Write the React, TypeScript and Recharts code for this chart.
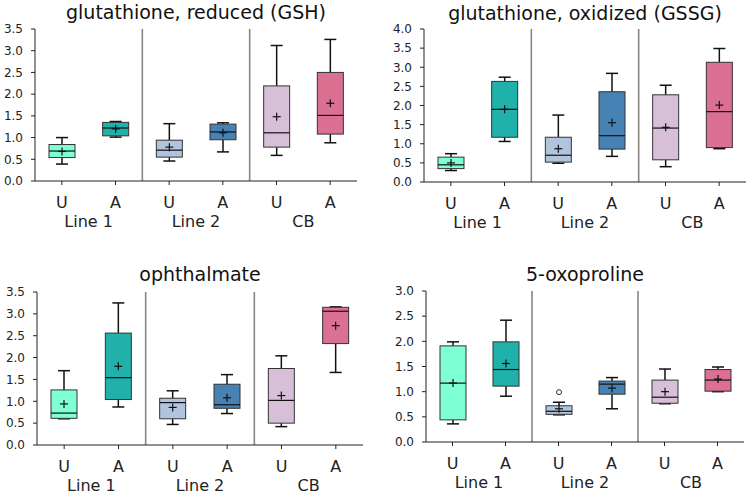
import React from 'react';
import { ComposedChart, Bar, XAxis, YAxis, ReferenceLine } from 'recharts';

const ids = ['L1U', 'L1A', 'L2U', 'L2A', 'CBU', 'CBA'];
const conditions = ['U', 'A', 'U', 'A', 'U', 'A'];
const groups = ['Line 1', 'Line 1', 'Line 2', 'Line 2', 'CB', 'CB'];
const boxColors = ['#7fffd4', '#20b2aa', '#b0c4de', '#4682b4', '#d8bfd8', '#db7093'];

// glutathione, reduced (GSH)
const gshLow = [0.39, 1.01, 0.46, 0.67, 0.59, 0.88];
const gshQ1 = [0.54, 1.04, 0.55, 0.95, 0.78, 1.08];
const gshMedian = [0.69, 1.22, 0.71, 1.13, 1.11, 1.51];
const gshQ3 = [0.84, 1.35, 0.94, 1.31, 2.19, 2.5];
const gshHigh = [1.0, 1.37, 1.32, 1.34, 3.12, 3.26];
const gshMean = [0.68, 1.2, 0.78, 1.11, 1.48, 1.79];
const gshTicks = [0, 0.5, 1, 1.5, 2, 2.5, 3, 3.5];

// glutathione, oxidized (GSSG)
const gssgLow = [0.3, 1.06, 0.49, 0.67, 0.4, 0.87];
const gssgQ1 = [0.35, 1.17, 0.52, 0.86, 0.58, 0.9];
const gssgMedian = [0.45, 1.9, 0.7, 1.21, 1.41, 1.84];
const gssgQ3 = [0.65, 2.63, 1.17, 2.36, 2.28, 3.13];
const gssgHigh = [0.74, 2.74, 1.75, 2.84, 2.53, 3.49];
const gssgMean = [0.5, 1.9, 0.87, 1.55, 1.43, 2.01];
const gssgTicks = [0, 0.5, 1, 1.5, 2, 2.5, 3, 3.5, 4];

// ophthalmate
const ophLow = [0.6, 0.87, 0.47, 0.72, 0.42, 1.66];
const ophQ1 = [0.61, 1.04, 0.6, 0.84, 0.5, 2.32];
const ophMedian = [0.73, 1.54, 0.97, 0.92, 1.02, 3.06];
const ophQ3 = [1.26, 2.56, 1.07, 1.39, 1.75, 3.15];
const ophHigh = [1.7, 3.25, 1.24, 1.61, 2.04, 3.16];
const ophMean = [0.94, 1.8, 0.86, 1.08, 1.13, 2.73];
const ophTicks = [0, 0.5, 1, 1.5, 2, 2.5, 3, 3.5];

// 5-oxoproline
const oxoLow = [0.36, 0.91, 0.54, 0.66, 0.76, 1.0];
const oxoQ1 = [0.44, 1.11, 0.55, 0.95, 0.77, 1.01];
const oxoMedian = [1.17, 1.44, 0.61, 1.15, 0.89, 1.23];
const oxoQ3 = [1.91, 1.99, 0.72, 1.21, 1.23, 1.44];
const oxoHigh = [1.99, 2.42, 0.79, 1.28, 1.45, 1.49];
const oxoMean = [1.17, 1.56, 0.66, 1.07, 1.0, 1.25];
const oxoOutliers = [[], [], [0.99], [], [], []];
const oxoTicks = [0, 0.5, 1, 1.5, 2, 2.5, 3];

const FONT = '"DejaVu Sans", Verdana, sans-serif';

function buildRows(
  low: number[], q1: number[], med: number[], q3: number[], high: number[], mean: number[],
  outliers: number[][] = []
) {
  return ids.map((id, i) => ({
    id,
    cond: conditions[i],
    group: groups[i],
    color: boxColors[i],
    range: [low[i], high[i]],
    low: low[i],
    q1: q1[i],
    med: med[i],
    q3: q3[i],
    high: high[i],
    mean: mean[i],
    outliers: outliers[i] || [],
  }));
}

const BoxShape = (props: any) => {
  const { x, y, width, height } = props;
  const d = props.payload ?? props;
  const top = Math.min(y, y + height);
  const h = Math.abs(height);
  const span = d.high - d.low;
  const py = (v: number) => top + ((d.high - v) / span) * h;
  const cx = x + width / 2;
  const cap = 6;
  const plus = 4;
  const meanY = py(d.mean);
  return (
    <g>
      <line x1={cx} x2={cx} y1={py(d.high)} y2={py(d.q3)} stroke="#111" strokeWidth={1.5} />
      <line x1={cx} x2={cx} y1={py(d.q1)} y2={py(d.low)} stroke="#111" strokeWidth={1.5} />
      <line x1={cx - cap} x2={cx + cap} y1={py(d.high)} y2={py(d.high)} stroke="#111" strokeWidth={1.5} />
      <line x1={cx - cap} x2={cx + cap} y1={py(d.low)} y2={py(d.low)} stroke="#111" strokeWidth={1.5} />
      <rect
        x={x}
        y={py(d.q3)}
        width={width}
        height={py(d.q1) - py(d.q3)}
        fill={d.color}
        stroke="#333"
        strokeWidth={1}
      />
      <line x1={x} x2={x + width} y1={py(d.med)} y2={py(d.med)} stroke="#111" strokeWidth={1.2} />
      <line x1={cx - plus} x2={cx + plus} y1={meanY} y2={meanY} stroke="#111" strokeWidth={1.2} />
      <line x1={cx} x2={cx} y1={meanY - plus} y2={meanY + plus} stroke="#111" strokeWidth={1.2} />
      {d.outliers.map((o: number, k: number) => (
        <circle key={k} cx={cx} cy={py(o)} r={2.5} fill="#fff" stroke="#333" strokeWidth={1} />
      ))}
    </g>
  );
};

interface PanelProps {
  title: string;
  rows: any[];
  ticks: number[];
  left: number;
  top: number;
  width: number;
  height: number;
  margin: { top: number; right: number; bottom: number; left: number };
  titleTop: number;
}

function BoxPanel({ title, rows, ticks, left, top, width, height, margin, titleTop }: PanelProps) {
  const yWidth = 35;
  const plotLeft = margin.left + yWidth;
  const plotRight = width - margin.right;
  const yMax = ticks[ticks.length - 1];
  return (
    <div style={{ position: 'absolute', left, top, width, height }}>
      <div
        style={{
          position: 'absolute',
          left: plotLeft - 20,
          width: plotRight - plotLeft + 40,
          top: titleTop,
          textAlign: 'center',
          fontSize: 19,
          lineHeight: '20px',
          color: '#111',
          whiteSpace: 'nowrap',
        }}
      >
        {title}
      </div>
      <ComposedChart
        width={width}
        height={height}
        data={rows}
        margin={margin}
        style={{ overflow: 'visible' }}
      >
        <XAxis
          dataKey="id"
          tickFormatter={(_v: any, i: number) => conditions[i]}
          interval={0}
          height={30}
          tickSize={4}
          tickMargin={12}
          axisLine={{ stroke: '#222' }}
          tickLine={{ stroke: '#222' }}
          tick={{ fill: '#222', fontSize: 16, fontFamily: FONT }}
        />
        <XAxis
          xAxisId="group"
          dataKey="group"
          allowDuplicatedCategory={false}
          interval={0}
          height={16}
          tickSize={0}
          tickMargin={5}
          axisLine={false}
          tickLine={false}
          tick={{ fill: '#222', fontSize: 16, fontFamily: FONT }}
        />
        <XAxis
          xAxisId="top"
          orientation="top"
          dataKey="id"
          height={0}
          tick={false}
          tickLine={false}
          axisLine={{ stroke: '#8a8a8a' }}
        />
        <YAxis
          domain={[0, yMax]}
          ticks={ticks}
          interval={0}
          width={yWidth}
          tickSize={4}
          tickMargin={8}
          tickFormatter={(v: number) => v.toFixed(1)}
          axisLine={{ stroke: '#222' }}
          tickLine={{ stroke: '#222' }}
          tick={{ fill: '#222', fontSize: 12, fontFamily: FONT }}
        />
        <YAxis
          yAxisId="right"
          orientation="right"
          domain={[0, yMax]}
          width={0}
          tick={false}
          tickLine={false}
          axisLine={{ stroke: '#8a8a8a' }}
        />
        <ReferenceLine x="L1A" position="end" stroke="#858585" strokeWidth={1.6} />
        <ReferenceLine x="L2A" position="end" stroke="#858585" strokeWidth={1.6} />
        <Bar dataKey="range" barSize={26} shape={BoxShape} isAnimationActive={false} />
      </ComposedChart>
    </div>
  );
}

export default function App() {
  return (
    <div
      style={{
        position: 'absolute',
        left: 0,
        top: 0,
        width: 751,
        height: 494,
        background: '#fff',
        fontFamily: FONT,
        overflow: 'hidden',
      }}
    >
      <BoxPanel
        title="glutathione, reduced (GSH)"
        rows={buildRows(gshLow, gshQ1, gshMedian, gshQ3, gshHigh, gshMean)}
        ticks={gshTicks}
        left={0}
        top={0}
        width={375}
        height={247}
        margin={{ top: 29, right: 18, bottom: 20, left: 0 }}
        titleTop={2}
      />
      <BoxPanel
        title="glutathione, oxidized (GSSG)"
        rows={buildRows(gssgLow, gssgQ1, gssgMedian, gssgQ3, gssgHigh, gssgMean)}
        ticks={gssgTicks}
        left={375}
        top={0}
        width={376}
        height={247}
        margin={{ top: 29, right: 5, bottom: 19, left: 14 }}
        titleTop={3}
      />
      <BoxPanel
        title="ophthalmate"
        rows={buildRows(ophLow, ophQ1, ophMedian, ophQ3, ophHigh, ophMean)}
        ticks={ophTicks}
        left={0}
        top={247}
        width={375}
        height={247}
        margin={{ top: 45, right: 12, bottom: 3, left: 2 }}
        titleTop={17}
      />
      <BoxPanel
        title="5-oxoproline"
        rows={buildRows(oxoLow, oxoQ1, oxoMedian, oxoQ3, oxoHigh, oxoMean, oxoOutliers)}
        ticks={oxoTicks}
        left={375}
        top={247}
        width={376}
        height={247}
        margin={{ top: 44, right: 7, bottom: 6, left: 16 }}
        titleTop={17}
      />
    </div>
  );
}
